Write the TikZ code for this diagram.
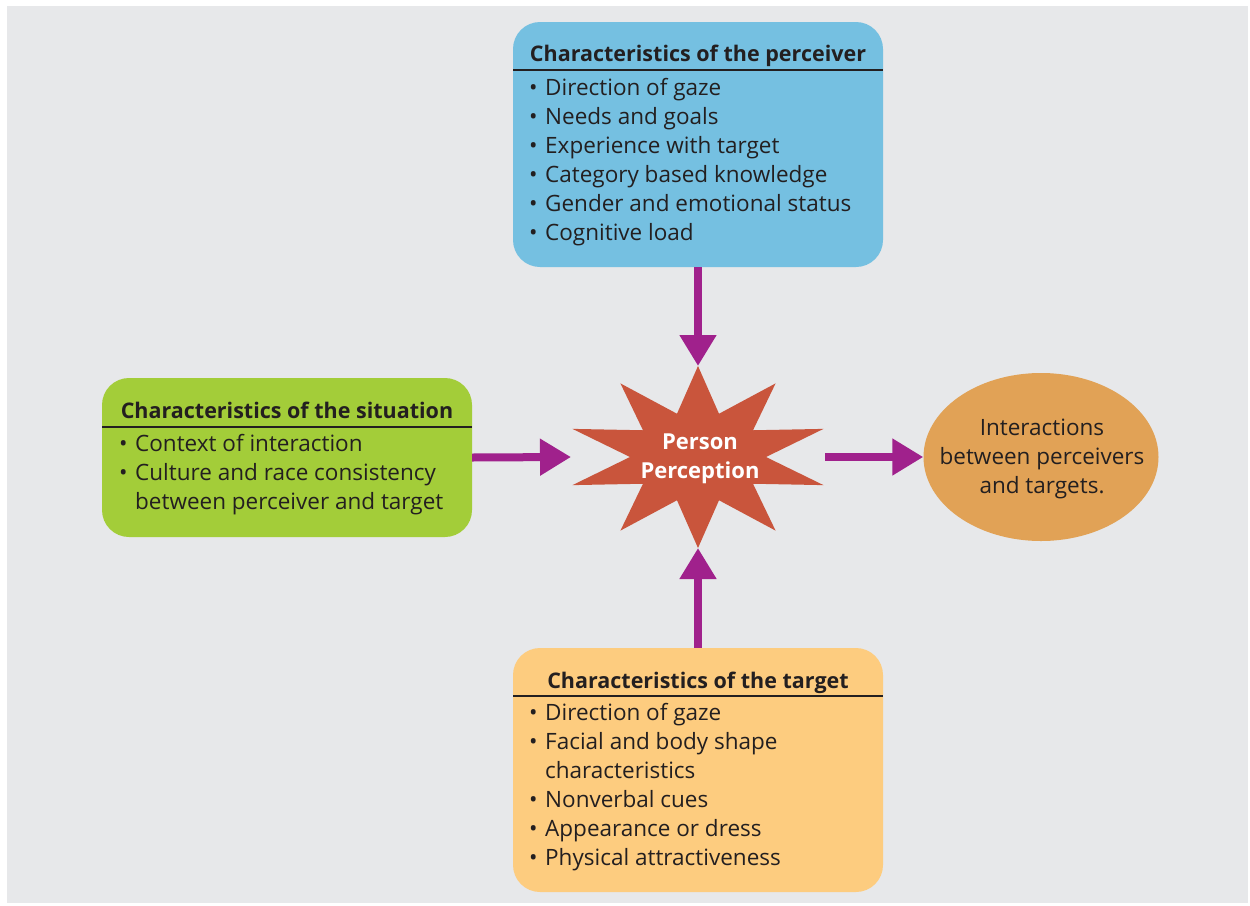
\documentclass[tikz,border=0pt]{standalone}
\usepackage{fontspec}
\setmainfont{Open Sans}
\usetikzlibrary{arrows.meta,shapes.geometric}

\definecolor{pagegray}{HTML}{E7E8EA}
\definecolor{percblue}{HTML}{75C0E1}
\definecolor{sitgreen}{HTML}{A3CD39}
\definecolor{targorange}{HTML}{FDCC7F}
\definecolor{interorange}{HTML}{E1A256}
\definecolor{starred}{HTML}{C9553C}
\definecolor{arrowpurple}{HTML}{A0218C}
\definecolor{inkdark}{HTML}{231F20}

% bullet with a fixed hanging indent, and the matching indent for run-on lines
\newcommand{\itm}{\makebox[16pt][l]{\textbullet}}
\newcommand{\cnt}{\hspace*{16pt}}

\tikzset{
  panel/.style={rounded corners=27pt, minimum width=370pt, inner sep=0pt},
  headtext/.style={font=\fontsize{21.5}{29}\selectfont\bfseries, text=inkdark, inner sep=0pt},
  itemtext/.style={font=\fontsize{22.5}{29}\selectfont, text=inkdark, inner sep=0pt},
  headrule/.style={draw=inkdark, line width=1.3pt},
  flow/.style={draw=arrowpurple, line width=8pt,
    -{Triangle[length=31pt,width=35pt]}, arrowpurple},
}

\begin{document}
\begin{tikzpicture}[x=1pt,y=-1pt]
\useasboundingbox (0,0) rectangle (1250,905);
\fill[pagegray] (7,6) rectangle (1248,903);

% ---- characteristics of the perceiver
\node[panel, fill=percblue, minimum height=245pt] (perc) at (698,144.5) {};
\node[headtext, anchor=base] (perchead) at (698,61) {Characteristics of the perceiver};
\draw[headrule] (513,70) -- (883,70);
\node[itemtext, anchor=base west] (percitems) at (529,95) {%
  \begin{tabular}[t]{@{}l@{}}
  \itm Direction of gaze\\
  \itm Needs and goals\\
  \itm Experience with target\\
  \itm Category based knowledge\\
  \itm Gender and emotional status\\
  \itm Cognitive load
  \end{tabular}};

% ---- characteristics of the situation
\node[panel, fill=sitgreen, minimum height=159pt] (sit) at (287,457.5) {};
\node[headtext, anchor=base] (sithead) at (287,418) {Characteristics of the situation};
\draw[headrule] (102,427) -- (472,427);
\node[itemtext, anchor=base west] (sititems) at (119,451) {%
  \begin{tabular}[t]{@{}l@{}}
  \itm Context of interaction\\
  \itm Culture and race consistency\\
  \cnt between perceiver and target
  \end{tabular}};

% ---- characteristics of the target
\node[panel, fill=targorange, minimum height=244pt] (targ) at (698,770) {};
\node[headtext, anchor=base] (targhead) at (698,688) {Characteristics of the target};
\draw[headrule] (513,696) -- (883,696);
\node[itemtext, anchor=base west] (targitems) at (529,720) {%
  \begin{tabular}[t]{@{}l@{}}
  \itm Direction of gaze\\
  \itm Facial and body shape\\
  \cnt characteristics\\
  \itm Nonverbal cues\\
  \itm Appearance or dress\\
  \itm Physical attractiveness
  \end{tabular}};

% ---- outcome
\node[ellipse, fill=interorange, minimum width=235pt, minimum height=168pt, inner sep=0pt] (inter) at (1041,457) {};
\node[itemtext, anchor=base] (intertext) at (1042,435) {%
  \begin{tabular}[t]{@{}c@{}}
  Interactions\\
  between perceivers\\
  and targets.
  \end{tabular}};

% ---- central ten-pointed star, stretched sideways
\fill[starred]
  \foreach \k in {0,...,9} {
    \ifnum\k=0 ({698+132*cos(90+36*\k)},{457-91*sin(90+36*\k)})
    \else -- ({698+132*cos(90+36*\k)},{457-91*sin(90+36*\k)})\fi
    -- ({698+68*cos(108+36*\k)},{457-45.5*sin(108+36*\k)})
  } -- cycle;
\node[font=\fontsize{22}{29}\selectfont\bfseries, text=white, inner sep=0pt, anchor=base] (pp) at (700,449) {%
  \begin{tabular}[t]{@{}c@{}}Person\\Perception\end{tabular}};

\coordinate (startop) at (698,366);
\coordinate (starbot) at (698,548);
\coordinate (starleft) at (571,457);
\coordinate (starright) at (825,457);

% ---- influences and outcome
\draw[flow] (perc.south) -- (startop);
\draw[flow] (targ.north) -- (starbot);
\draw[flow] (sit.east) -- (starleft);
\draw[flow] (starright) -- (inter.west);
\end{tikzpicture}
\end{document}
